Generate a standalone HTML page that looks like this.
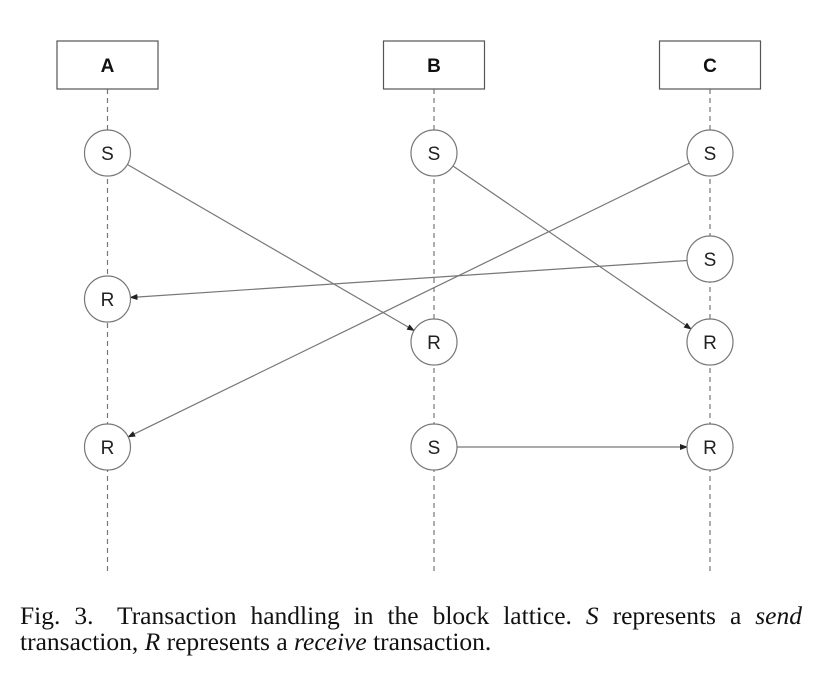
<!DOCTYPE html>
<html><head><meta charset="utf-8"><style>
body{margin:0;background:#fff;width:819px;height:691px;overflow:hidden}
svg{position:absolute;left:0;top:0}
#cap{position:absolute;left:20px;top:603px;width:782px;font-family:"Liberation Serif",serif;font-size:25.5px;line-height:26px;color:#111}
#cap .l1{text-align:justify;text-align-last:justify;white-space:nowrap}
.gap{display:inline-block;width:10px}
</style></head><body>
<svg id="d" width="819" height="600">
<defs><marker id="ah" markerWidth="8" markerHeight="8" refX="7" refY="4" orient="auto" markerUnits="userSpaceOnUse"><path d="M0,1 L8,4 L0,7 z" fill="#222"/></marker></defs>
</svg>
<div id="cap"><div class="l1">Fig. 3.<span class="gap"></span> Transaction handling in the block lattice. <i>S</i> represents a <i>send</i></div><div>transaction, <i>R</i> represents a <i>receive</i> transaction.</div></div>
<script>
const accounts=["A","B","C"];
const accountX=[107.5,434,710];
const nodeAcc=[0,1,2,2,0,1,2,0,1,2];
const nodeType=["S","S","S","S","R","R","R","R","S","R"];
const nodeY=[153,153,153,259,299,342,342,447,447,447];
const edgeFrom=[0,1,2,3,8];
const edgeTo=[5,6,7,4,9];
const NS="http://www.w3.org/2000/svg";
const svg=document.getElementById('d');
const r=23;
function mk(t,a){const e=document.createElementNS(NS,t);for(const k in a)e.setAttribute(k,a[k]);svg.appendChild(e);return e;}
accounts.forEach((n,i)=>{
 const x=accountX[i];
 const l=mk('line',{x1:x,y1:89,x2:x,y2:572,stroke:'#777','stroke-width':1.2,'stroke-dasharray':'5,4'});
 
 
 const b=mk('rect',{x:x-50.5,y:41,width:101,height:48,fill:'#fff',stroke:'#555','stroke-width':1.2});
 
 
 const t=mk('text',{x:x,y:72,'text-anchor':'middle','font-family':'Liberation Sans, sans-serif','font-weight':'bold','font-size':19,fill:'#111'});
 t.textContent=n;
 
 
});
edgeFrom.forEach((f,i)=>{
 const g=edgeTo[i];
 const x1=accountX[nodeAcc[f]],y1=nodeY[f],x2=accountX[nodeAcc[g]],y2=nodeY[g];
 const dx=x2-x1,dy=y2-y1,L=Math.hypot(dx,dy),ux=dx/L,uy=dy/L;
 const e=mk('line',{x1:x1+ux*r,y1:y1+uy*r,x2:x2-ux*r,y2:y2-uy*r,stroke:'#777','stroke-width':1.2,'marker-end':'url(#ah)'});
 
 
});
nodeAcc.forEach((a,i)=>{
 const x=accountX[a],y=nodeY[i];
 const c=mk('circle',{cx:x,cy:y,r:r,fill:'#fff',stroke:'#777','stroke-width':1.2});
 
 
 const t=mk('text',{x:x,y:y+7,'text-anchor':'middle','font-family':'Liberation Sans, sans-serif','font-size':19,fill:'#222'});
 t.textContent=nodeType[i];
 
 
});
</script>
</body></html>
